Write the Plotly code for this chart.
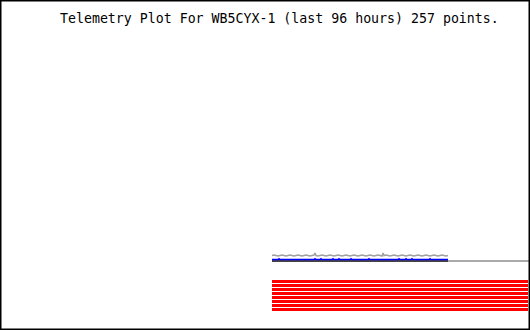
import plotly.graph_objects as go

title_text = "Telemetry Plot For WB5CYX-1 (last 96 hours) 257 points."

# point index along the time axis (257 telemetry points)
red_x = [0, 256]
# eight digital channels (all high), stacked levels
red_levels = [48.5, 44.5, 40.5, 36.5, 32.5, 28.5, 24.5, 20.5]

# analog channel 1 (light grey, jittery)
grey_x = [0, 2, 4, 6, 8, 10, 12, 14, 16, 18, 20, 22, 24, 26, 28, 30, 32, 34, 36, 38,
          40, 42, 43, 44, 46, 48, 50, 52, 54, 56, 58, 60, 62, 64, 66, 68, 70, 72, 74, 76,
          78, 80, 82, 84, 86, 88, 90, 92, 94, 96, 98, 100, 102, 104, 106, 108, 110, 111, 112, 114,
          116, 118, 120, 122, 124, 126, 128, 130, 132, 134, 136, 138, 140, 142, 144, 146, 148, 150,
          152, 154, 156, 158, 160, 162, 164, 166, 168, 170, 172, 174, 176]
grey_y = [74.5, 75.0, 74.5, 74.0, 74.5, 75.0, 74.5, 74.0, 74.5, 75.0, 74.5, 74.0, 74.5, 75.0, 74.5, 74.0, 74.5, 75.0, 74.5, 74.0,
          74.5, 75.0, 77.0, 74.5, 74.0, 74.5, 75.0, 74.5, 74.0, 74.5, 75.0, 74.5, 74.0, 74.5, 75.0, 74.5, 74.0, 74.5, 75.0, 74.5,
          74.0, 74.5, 75.0, 74.5, 74.0, 74.5, 75.0, 74.5, 74.0, 74.5, 75.0, 74.5, 74.0, 74.5, 75.0, 74.5, 74.0, 77.0, 74.5, 75.0,
          74.5, 74.0, 74.5, 75.0, 74.5, 74.0, 74.5, 75.0, 74.5, 74.0, 74.5, 75.0, 74.5, 74.0, 74.5, 75.0, 74.5, 74.0,
          74.5, 75.0, 74.5, 74.0, 74.5, 75.0, 74.5, 74.0, 74.5, 75.0, 74.5, 74.0, 74.5]

# analog channel 2 (blue) with occasional one-count blips
blue_x = [0, 6, 7, 8, 42, 43, 44, 48, 49, 50, 60, 61, 62, 66, 67, 68, 78, 79, 80, 96, 97, 98,
          126, 127, 128, 133, 134, 135, 139, 140, 141, 157, 158, 159, 176]
blue_y = [70.5, 70.5, 71.3, 70.5, 70.5, 71.3, 70.5, 70.5, 71.3, 70.5, 70.5, 71.3, 70.5, 70.5, 71.3, 70.5,
          70.5, 71.3, 70.5, 70.5, 71.3, 70.5, 70.5, 71.3, 70.5, 70.5, 71.3, 70.5, 70.5, 71.3, 70.5,
          70.5, 71.3, 70.5, 70.5]

# analog channel 3 (dark grey, flat)
dark_x = [0, 176]
dark_y = [69.0, 69.0]

# analog channel 4 (light grey, later part)
light_x = [176, 257]
light_y = [69.0, 69.0]

fig = go.Figure()

for lvl in red_levels:
    fig.add_trace(go.Scatter(x=red_x, y=[lvl, lvl], mode="lines",
                             line=dict(color="#ff0000", width=3), hoverinfo="skip"))

fig.add_trace(go.Scatter(x=light_x, y=light_y, mode="lines",
                         line=dict(color="#aaaaaa", width=2), hoverinfo="skip"))
fig.add_trace(go.Scatter(x=dark_x, y=dark_y, mode="lines",
                         line=dict(color="#444444", width=2), hoverinfo="skip"))
fig.add_trace(go.Scatter(x=blue_x, y=blue_y, mode="lines",
                         line=dict(color="#0000ff", width=1.5), hoverinfo="skip"))
fig.add_trace(go.Scatter(x=grey_x, y=grey_y, mode="lines",
                         line=dict(color="#a0a0a0", width=1.5), hoverinfo="skip"))

fig.update_layout(
    width=530, height=330,
    margin=dict(l=0, r=0, t=0, b=0),
    paper_bgcolor="white", plot_bgcolor="white",
    showlegend=False,
    xaxis=dict(range=[-272, 258], visible=False, showgrid=False, zeroline=False),
    yaxis=dict(range=[0, 330], visible=False, showgrid=False, zeroline=False),
    shapes=[dict(type="rect", xref="paper", yref="paper", x0=0, y0=0, x1=1, y1=1,
                 line=dict(color="black", width=3), fillcolor="rgba(0,0,0,0)")],
    annotations=[dict(text=title_text, xref="paper", yref="paper",
                      x=279 / 530, y=1 - 18 / 330, xanchor="center", yanchor="middle",
                      showarrow=False,
                      font=dict(family="DejaVu Sans Mono", size=13.25, color="black"))],
)

fig.write_html("out.html")
